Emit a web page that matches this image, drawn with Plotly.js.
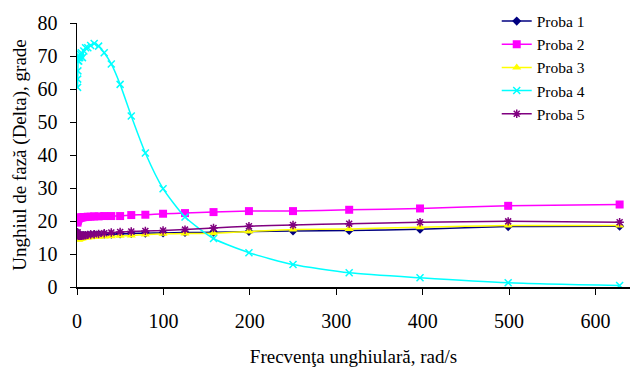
<!DOCTYPE html>
<html>
<head>
<meta charset="utf-8">
<script src="https://cdn.plot.ly/plotly-3.0.1.min.js"></script>
<style>
html,body{margin:0;padding:0;background:#fff;}
#chart{width:630px;height:367px;}
</style>
</head>
<body>
<div id="chart"></div>
<script>
const freq = [0.628, 0.791, 0.996, 1.25, 1.58, 1.99, 2.5, 3.15, 3.97, 4.99, 6.28, 7.91, 9.96, 12.5, 15.8, 19.9, 25.0, 31.5, 39.7, 49.9, 62.8, 79.1, 99.6, 125, 158, 199, 250, 315, 397, 499, 628];
const proba1 = [16.4, 16.2, 16.0, 15.9, 15.7, 15.6, 15.5, 15.5, 15.5, 15.5, 15.5, 15.6, 15.6, 15.7, 15.8, 15.9, 15.9, 16.0, 16.0, 16.1, 16.2, 16.3, 16.4, 16.5, 16.6, 16.8, 17.0, 17.1, 17.5, 18.3, 18.4];
const proba2 = [19.5, 20.0, 20.3, 20.5, 20.7, 20.8, 20.9, 21.0, 21.0, 21.1, 21.1, 21.2, 21.2, 21.3, 21.3, 21.4, 21.4, 21.5, 21.5, 21.5, 21.8, 21.9, 22.2, 22.4, 22.7, 23.0, 23.0, 23.4, 23.8, 24.6, 25.0];
const proba3 = [14.8, 14.6, 14.5, 14.5, 14.4, 14.5, 14.5, 14.6, 14.6, 14.7, 14.8, 14.9, 15.0, 15.0, 15.1, 15.2, 15.2, 15.3, 15.4, 15.5, 15.6, 15.9, 16.1, 16.2, 16.3, 16.8, 17.4, 17.6, 18.1, 18.6, 18.6];
const proba4 = [60.5, 63.0, 65.5, 68.5, 69.5, 68.5, 70.0, 69.5, 70.5, 71.0, 69.5, 71.5, 72.5, 72.5, 73.2, 73.8, 73.0, 71.0, 67.6, 61.4, 51.8, 40.6, 29.8, 21.2, 14.7, 10.4, 6.8, 4.3, 2.8, 1.3, 0.45];
const proba5 = [16.6, 16.2, 15.9, 15.7, 15.6, 15.5, 15.5, 15.5, 15.5, 15.5, 15.6, 15.6, 15.7, 15.8, 15.9, 16.0, 16.1, 16.3, 16.5, 16.7, 16.8, 17.0, 17.1, 17.4, 17.9, 18.4, 18.8, 19.2, 19.6, 19.9, 19.6];

const names = ['Proba 1', 'Proba 2', 'Proba 3', 'Proba 4', 'Proba 5'];
const series = [proba1, proba2, proba3, proba4, proba5];
const colors = ['#000080', '#FF00FF', '#FFFF00', '#00FFFF', '#800080'];
const symbols = ['diamond', 'square', 'triangle-up', 'x-thin-open', 'asterisk-open'];
const sizes = [7, 8, 8, 7, 7];

const traces = series.map((s, i) => ({
  x: freq, y: s, name: names[i], type: 'scatter', mode: 'lines+markers',
  line: {color: colors[i], width: 1.5, shape: 'spline', smoothing: 0.6},
  marker: {symbol: symbols[i], size: sizes[i], color: colors[i], line: {color: colors[i], width: (i >= 3 ? 1.5 : 0)}}
}));

const fam = "'Liberation Serif', 'Times New Roman', serif";
const tickFont = {family: fam, size: 20, color: '#000'};
const titleFont = {family: fam, size: 19, color: '#000'};
const legendFont = {family: fam, size: 15.5, color: '#000'};
const layout = {
  width: 630, height: 367,
  margin: {l: 77, r: 0, t: 23, b: 80},
  paper_bgcolor: '#fff', plot_bgcolor: '#fff',
  font: {family: fam, size: 17, color: '#000'},
  showlegend: true,
  legend: {x: 0.759, y: 1.07, xanchor: 'left', yanchor: 'top', bgcolor: 'rgba(0,0,0,0)', font: legendFont, tracegroupgap: 0, itemwidth: 30},
  xaxis: {
    range: [0, 640], dtick: 100, tick0: 0, showgrid: false, zeroline: false,
    showline: true, linecolor: '#000', linewidth: 1.5,
    ticks: 'outside', ticklen: 6, tickcolor: '#000', tickwidth: 1,
    ticklabelstandoff: 9,
    tickfont: tickFont,
    title: {text: 'Frecvenţa unghiulară, rad/s', font: titleFont, standoff: 24}
  },
  yaxis: {
    range: [0, 80], dtick: 10, tick0: 0, showgrid: false, zeroline: false,
    showline: true, linecolor: '#000', linewidth: 1.5,
    ticks: 'outside', ticklen: 6, tickcolor: '#000', tickwidth: 1,
    ticklabelstandoff: 8,
    tickfont: tickFont,
    title: {text: 'Unghiul de fază (Delta), grade', font: titleFont, standoff: 6}
  }
};
Plotly.newPlot('chart', traces, layout, {displayModeBar: false, staticPlot: true});
</script>
</body>
</html>
